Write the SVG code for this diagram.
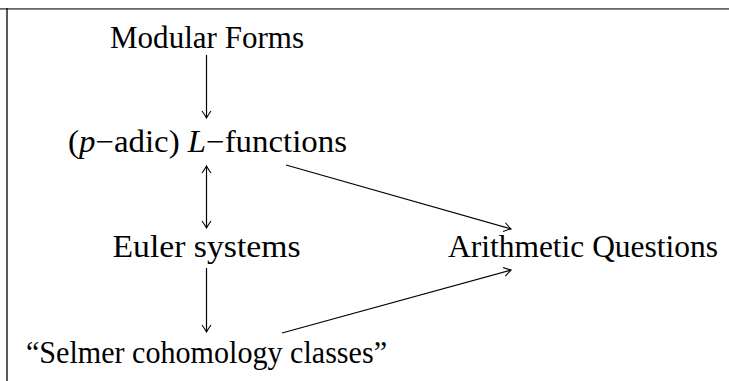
<svg xmlns="http://www.w3.org/2000/svg" width="729" height="381" viewBox="0 0 729 381">
<style>
.t{font-family:"Liberation Serif","Times New Roman",serif;font-size:31.5px;fill:#000;text-anchor:middle}
.i{font-style:italic}
.c{stroke:#000;stroke-width:1.2;fill:none}
</style>
<defs>
<marker id="ah" viewBox="-10 -6 12 12" markerWidth="12" markerHeight="12" refX="0" refY="0" orient="auto-start-reverse" markerUnits="userSpaceOnUse">
<path d="M-7,-4.5 Q-2,-1 0,0 Q-2,1 -7,4.5" fill="none" stroke="#000" stroke-width="1.1"/>
</marker>
</defs>
<rect x="0" y="0" width="729" height="381" fill="#fff"/>
<line x1="0" y1="8.8" x2="729" y2="8.8" stroke="#666" stroke-width="1.8"/>
<line x1="7" y1="8" x2="7" y2="381" stroke="#000" stroke-width="1.3"/>
<g id="connectors">
<line class="c" x1="206.5" y1="55" x2="206.5" y2="118" marker-end="url(#ah)"/>
<line class="c" x1="206.5" y1="166" x2="206.5" y2="228" marker-start="url(#ah)" marker-end="url(#ah)"/>
<line class="c" x1="206.5" y1="268" x2="206.5" y2="332" marker-end="url(#ah)"/>
<line class="c" x1="286" y1="165" x2="511" y2="229" marker-end="url(#ah)"/>
<line class="c" x1="282" y1="333" x2="511" y2="270" marker-end="url(#ah)"/>
</g>
<g id="modular-forms"><text class="t" x="207" y="48" textLength="194" lengthAdjust="spacingAndGlyphs">Modular Forms</text></g>
<g id="l-functions"><text class="t" x="207.5" y="152" textLength="279" lengthAdjust="spacingAndGlyphs">(<tspan class="i">p</tspan>−adic) <tspan class="i">L</tspan>−functions</text></g>
<g id="euler-systems"><text class="t" x="206.5" y="257" textLength="188" lengthAdjust="spacingAndGlyphs">Euler systems</text></g>
<g id="arithmetic-questions"><text class="t" x="583" y="257" textLength="270" lengthAdjust="spacingAndGlyphs">Arithmetic Questions</text></g>
<g id="selmer"><text class="t" x="206.5" y="363" textLength="361" lengthAdjust="spacingAndGlyphs">“Selmer cohomology classes”</text></g>
</svg>
